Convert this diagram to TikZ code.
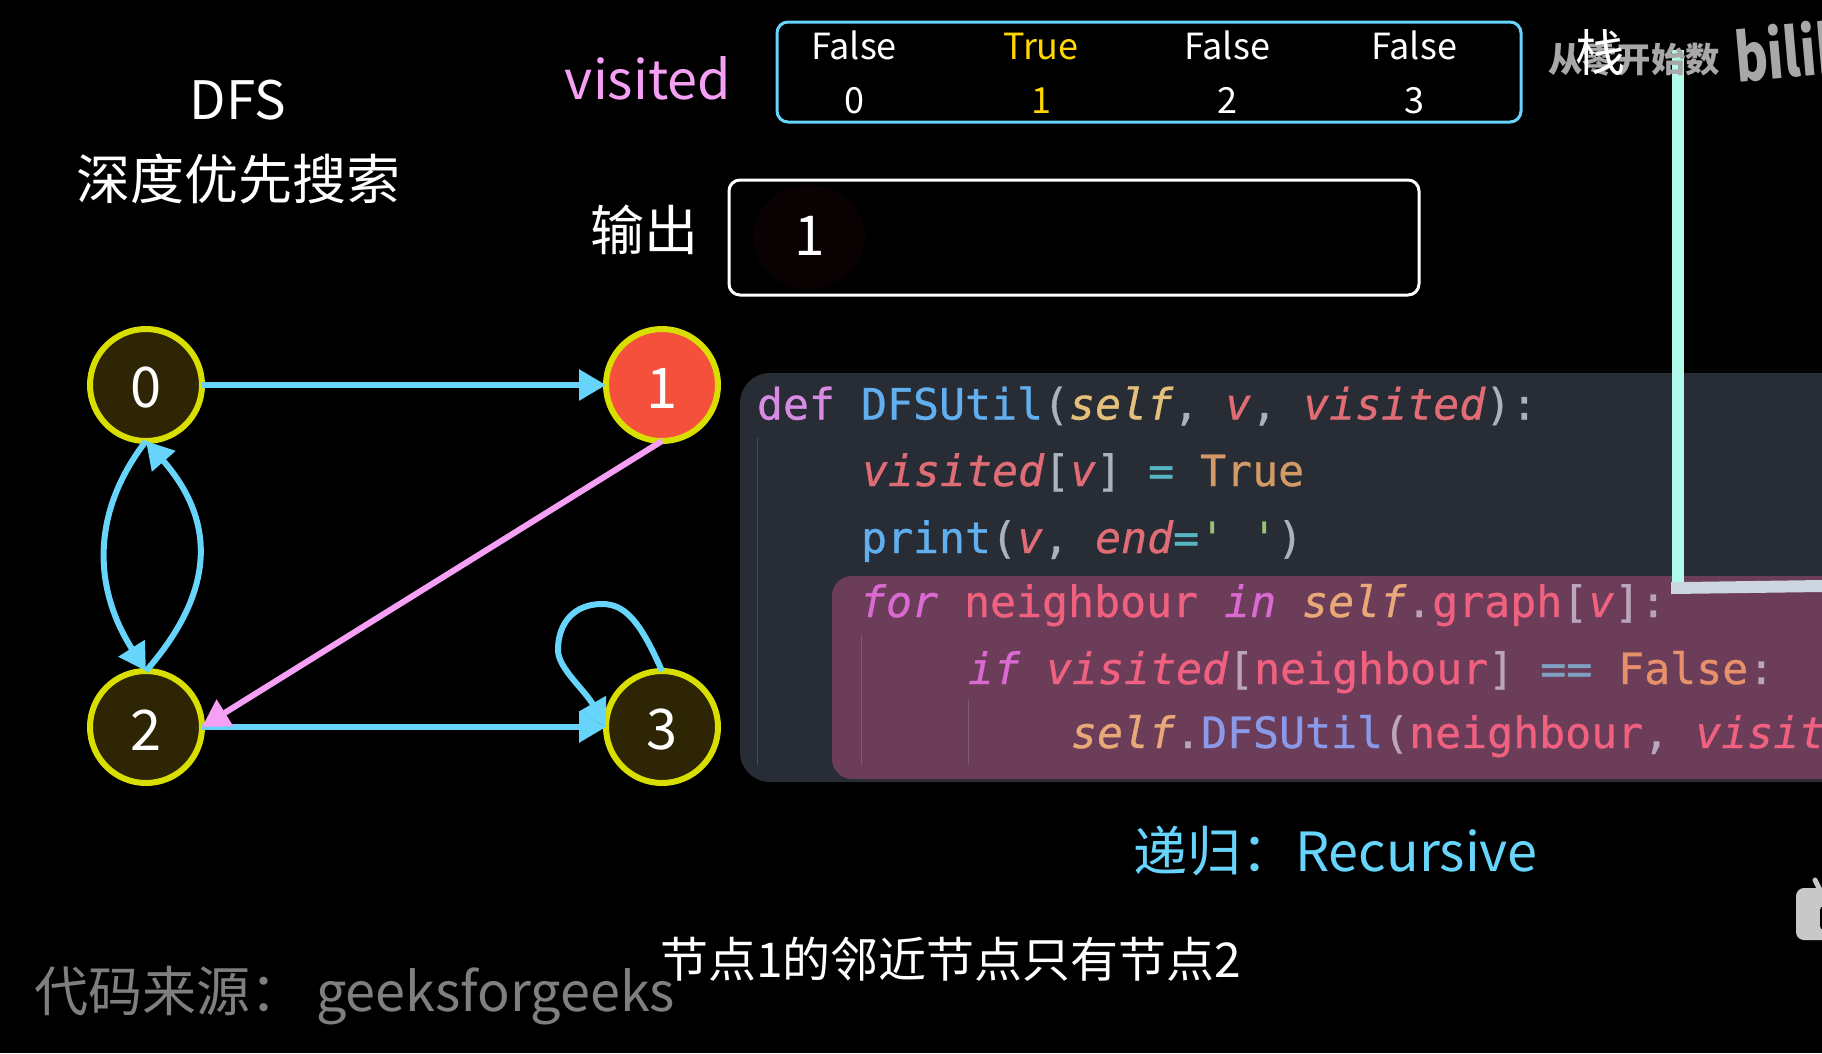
\documentclass[tikz,border=0pt]{standalone}
\usepackage{fontspec}
\setmainfont{Noto Sans CJK SC}
\newfontfamily\codefont[FakeBold=0.7]{DejaVu Sans Mono}
\usetikzlibrary{arrows.meta,calc}
\definecolor{edgeblue}{HTML}{66D4FB}
\definecolor{edgepink}{HTML}{F5A0F5}
\definecolor{ringyel}{HTML}{D8DE00}
\definecolor{nodedark}{HTML}{2E2505}
\definecolor{nodered}{HTML}{F5503C}
\definecolor{panel}{HTML}{282C34}
\definecolor{panelhi}{HTML}{6B3D59}
\definecolor{cKw}{HTML}{D78BE3}
\definecolor{cFn}{HTML}{61AFEF}
\definecolor{cPl}{HTML}{ABB2BF}
\definecolor{cSelf}{HTML}{E5C07B}
\definecolor{cVar}{HTML}{E06C75}
\definecolor{cLit}{HTML}{D19A66}
\definecolor{cOp}{HTML}{56B6C2}
\definecolor{cStr}{HTML}{98C379}
\definecolor{hKw}{HTML}{DA6AD2}
\definecolor{hVar}{HTML}{F0607F}
\definecolor{hSelf}{HTML}{E8A878}
\definecolor{hPl}{HTML}{BBA5BE}
\definecolor{hLit}{HTML}{E8906A}
\definecolor{hOp}{HTML}{7FA0C0}
\definecolor{hFn}{HTML}{8A9AE8}
\definecolor{mintline}{HTML}{AFFAEB}
\definecolor{greyline}{HTML}{CDD5E0}
\definecolor{flagyel}{HTML}{FFD600}
\definecolor{srcgrey}{HTML}{7F7F7F}
\definecolor{wmgrey}{HTML}{A8A8A8}
\definecolor{tvgrey}{HTML}{C8C8C8}
\definecolor{outshade}{HTML}{0A0202}
\newcommand{\fs}[1]{\fontsize{#1}{#1}\selectfont}
\newcommand{\tk}[2]{\textcolor{#1}{#2}}
\newcommand{\ti}[2]{\textcolor{#1}{\itshape #2}}
\newcommand{\dg}[1]{\rule{0pt}{46pt}#1}
\tikzset{
  gnode/.style={circle,draw=ringyel,line width=6pt,fill=nodedark,minimum size=112pt,inner sep=0pt,outer sep=0pt,text=white,font=\fs{56}},
  lab/.style={inner sep=0pt,outer sep=0pt,anchor=base},
  labw/.style={inner sep=0pt,outer sep=0pt,anchor=base west},
  code/.style={labw,font=\codefont\fs{43.2}},
  flag/.style={lab,text=white,font=\fs{36}},
  blueedge/.style={draw=edgeblue,line width=6pt,-{Triangle[length=27pt,width=30pt,fill=edgeblue]}},
  pinkedge/.style={draw=edgepink,line width=6pt,-{Triangle[length=27pt,width=30pt,fill=edgepink]}},
  panelbox/.style={fill=panel,rounded corners=30pt},
  hibox/.style={fill=panelhi,rounded corners=20pt},
  frameblue/.style={draw=edgeblue,line width=3pt,rounded corners=11pt},
  framewhite/.style={draw=white,line width=3pt,rounded corners=11pt}
}
\begin{document}
\begin{tikzpicture}[x=1pt,y=-1pt]
\useasboundingbox (0,0) rectangle (1822,1053);
\clip (0,0) rectangle (1822,1053);
\fill[black] (0,0) rectangle (1822,1053);

% code panel
\path[panelbox] (740,373) rectangle (1900,782);
\path[hibox] (832,576) rectangle (1900,779);
\draw[color=panel!85!white,line width=1pt] (757,438) -- (757,765);
\draw[color=panelhi!85!white,line width=1pt] (861,635) -- (861,765);
\draw[color=panelhi!85!white,line width=1pt] (968,700) -- (968,765);

\node[code] (l1) at (757,419.5) {\tk{cKw}{def} \tk{cFn}{DFSUtil}\tk{cPl}{(}\ti{cSelf}{self}\tk{cPl}{,} \ti{cVar}{v}\tk{cPl}{,} \ti{cVar}{visited}\tk{cPl}{):}};
\node[code] (l2) at (862,486) {\ti{cVar}{visited}\tk{cPl}{[}\ti{cVar}{v}\tk{cPl}{]} \tk{cOp}{=} \tk{cLit}{True}};
\node[code] (l3) at (861,553) {\tk{cFn}{print}\tk{cPl}{(}\ti{cVar}{v}\tk{cPl}{,} \ti{cVar}{end}\tk{cOp}{=}\tk{cStr}{'}\ \tk{cStr}{'}\tk{cPl}{)}};
\node[code] (l4) at (860,617) {\ti{hKw}{for} \tk{hVar}{neighbour} \ti{hKw}{in} \ti{hSelf}{self}\tk{hPl}{.}\tk{hVar}{graph}\tk{hPl}{[}\ti{hVar}{v}\tk{hPl}{]:}};
\node[code] (l5) at (968,684) {\ti{hKw}{if} \ti{hVar}{visited}\tk{hPl}{[}\tk{hVar}{neighbour}\tk{hPl}{]} \tk{hOp}{==} \tk{hLit}{False}\tk{hPl}{:}};
\node[code] (l6) at (1071,748) {\ti{hSelf}{self}\tk{hPl}{.}\tk{hFn}{DFSUtil}\tk{hPl}{(}\tk{hVar}{neighbour}\tk{hPl}{,} \ti{hVar}{visit}};

% stack outline
\fill[mintline] (1672,50) rectangle (1684,582);
\fill[greyline] (1671,582) -- (1684,582) -- (1822,580) -- (1822,592) -- (1671,594) -- cycle;

% titles
\node[lab,text=white,font=\fs{53}] (dfs) at (238,119) {DFS};
\node[lab,text=white,font=\fs{54}] (dfscn) at (238,199) {深度优先搜索};
\node[lab,text=edgepink,font=\fs{54}] (vis) at (648,99) {visited};
\node[lab,text=white,font=\fs{54}] (outl) at (644,250) {输出};

% visited box
\draw[frameblue] (777,22) rectangle (1521,122);
\node[flag] (f0) at (854,59) {False};
\node[flag,text=flagyel] (f1) at (1041,59) {True};
\node[flag] (f2) at (1227,59) {False};
\node[flag] (f3) at (1414,59) {False};
\node[flag] (i0) at (854,113) {0};
\node[flag,text=flagyel] (i1) at (1041,113) {1};
\node[flag] (i2) at (1227,113) {2};
\node[flag] (i3) at (1414,113) {3};

% output box
\fill[outshade] (809,237) ellipse (56pt and 52pt);
\draw[framewhite] (729,180) rectangle (1419,295);
\node[lab,text=white,font=\fs{55}] (out1) at (810,255) {1};

% graph
\node[gnode] (n0) at (146,385) {\dg{0}};
\node[gnode,fill=nodered] (n1) at (662,385) {\dg{1}};
\node[gnode] (n2) at (146,727) {\dg{2}};
\node[gnode] (n3) at (662,727) {\dg{3}};
\coordinate (loopt) at (602,604);
\coordinate (loopl) at (558,650);

\draw[blueedge] (n0.east) -- (n1.west);
\draw[blueedge] (n2.east) -- (n3.west);
\draw[pinkedge] (n1.south) -- (n2.east);
\draw[blueedge] (n2.north) .. controls +(70,-80) and +(70,80) .. (n0.south);
\draw[blueedge] (n0.south) .. controls +(-54,70) and +(-54,-85) .. (n2.north);
\draw[blueedge] (n3.north) .. controls +(-22,-50) and +(23,0) .. (loopt) .. controls +(-27,0) and +(0,-28) .. (loopl) .. controls +(0,18) and +(-22,-38) .. (n3.west);

% captions
\node[labw,text=edgeblue,font=\fs{54}] (rec1) at (1133,871) {递归：};
\node[labw,text=edgeblue,font=\fs{54}] (rec2) at (1295,871) {Recursive};
\node[labw,text=white,font=\fs{48}] (sub) at (660,977) {节点1的邻近节点只有节点2};
\node[labw,text=srcgrey,font=\fs{54}] (src1) at (34,1011) {代码来源：};
\node[labw,text=srcgrey,font=\fs{54}] (src2) at (316,1011) {geeksforgeeks};

% watermark
\node[labw,text=wmgrey,font=\bfseries\fs{34.4}] (wm) at (1548,72) {从零开始数};
\node[labw,text=wmgrey,font=\bfseries\fs{66},rotate=5,xscale=0.76,transform shape] (bili) at (1737,82) {bilib};
\node[labw,text=white,font=\fs{50}] (stack) at (1575,71) {栈};

% tv icon
\fill[tvgrey,rounded corners=8pt] (1796,888) rectangle (1850,940);
\fill[black,rounded corners=4pt] (1820,906) rectangle (1850,930);
\draw[color=tvgrey,line width=5pt,line cap=round] (1815,880) -- (1820,890);
\end{tikzpicture}
\end{document}
